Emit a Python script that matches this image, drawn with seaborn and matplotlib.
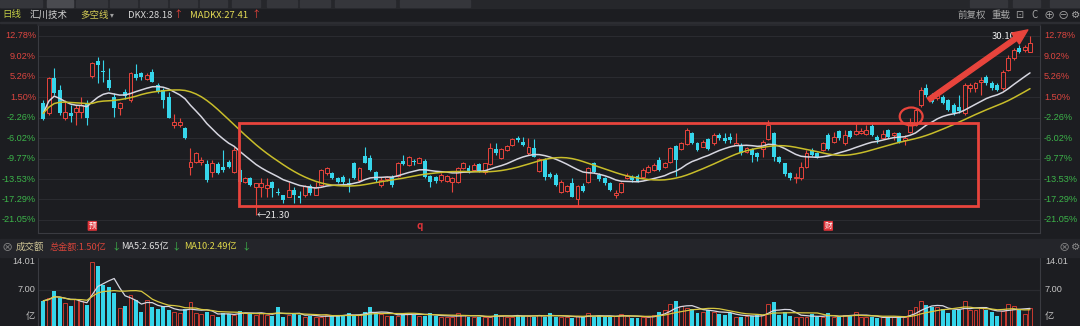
import numpy as np
import pandas as pd
import matplotlib
matplotlib.use("Agg")
import matplotlib.pyplot as plt
import matplotlib.transforms as mtransforms
import seaborn as sns
from matplotlib.patches import Rectangle, Ellipse

# ---------------- data ----------------
opens = [
    26.81, 26.32, 28.04, 27.45, 26.07, 26.32, 26.37, 26.37, 26.81, 28.14,
    28.87, 28.38, 27.94, 27.10, 26.57, 27.35, 26.96, 28.24, 28.28, 27.99,
    28.33, 27.70, 27.45, 27.10, 25.73, 25.73, 25.58, 23.67, 23.92, 23.92,
    23.82, 23.43, 23.82, 23.67, 23.92, 23.43, 23.53, 22.94, 23.13, 22.69,
    22.69, 22.64, 22.94, 22.45, 22.30, 22.20, 22.54, 22.25, 22.30, 22.74,
    22.30, 22.79, 23.38, 23.38, 23.13, 23.18, 22.89, 23.87, 23.03, 24.21,
    24.10, 23.40, 22.79, 23.07, 23.20, 23.23, 23.97, 23.77, 23.97, 23.88,
    23.98, 23.23, 23.20, 23.03, 23.00, 22.95, 22.95, 23.61, 23.61, 23.53,
    23.82, 23.40, 23.82, 24.54, 24.10, 24.51, 24.75, 25.08, 24.91, 24.34,
    24.59, 23.47, 24.02, 23.33, 23.28, 22.46, 22.51, 22.87, 22.09, 22.74,
    22.95, 23.88, 23.28, 23.12, 22.87, 22.30, 22.46, 23.12, 23.20, 23.23,
    23.20, 23.44, 23.53, 24.02, 23.69, 23.93, 24.70, 24.54, 24.80, 25.36,
    24.83, 24.67, 25.03, 24.83, 25.24, 25.08, 25.13, 24.75, 24.75, 24.42,
    24.54, 24.34, 24.54, 25.03, 25.32, 24.18, 23.85, 23.38, 23.12, 23.12,
    23.69, 24.51, 24.34, 24.51, 25.24, 24.91, 25.44, 24.83, 25.44, 25.28,
    25.33, 25.28, 25.70, 25.16, 25.11, 25.49, 25.24, 25.33, 24.99, 25.40,
    25.73, 26.71, 27.53, 27.21, 27.04, 27.12, 26.96, 26.71, 26.63, 26.31,
    27.53, 27.53, 27.83, 28.10, 27.78, 27.70, 27.53, 28.43, 29.01, 29.50,
    29.41, 29.33,
]
highs = [
    26.96, 28.09, 28.53, 27.70, 26.96, 26.71, 26.71, 27.10, 26.96, 28.82,
    29.07, 28.92, 28.53, 27.30, 26.86, 27.50, 28.33, 28.73, 28.33, 28.28,
    28.48, 27.80, 27.55, 27.35, 26.27, 26.07, 25.63, 24.61, 24.41, 24.16,
    24.02, 24.02, 23.92, 24.51, 24.02, 24.66, 23.62, 23.18, 23.18, 22.89,
    23.13, 23.13, 22.99, 22.64, 22.30, 22.94, 22.69, 22.50, 22.79, 22.84,
    22.94, 23.58, 23.67, 23.43, 23.18, 23.28, 23.13, 23.92, 23.67, 24.66,
    24.26, 23.45, 23.20, 23.23, 23.28, 23.93, 24.26, 24.21, 24.08, 24.15,
    24.05, 23.28, 23.23, 23.36, 23.28, 23.20, 23.69, 23.93, 23.77, 23.88,
    23.87, 23.88, 24.83, 24.86, 24.59, 24.75, 25.08, 25.19, 25.16, 25.08,
    25.03, 24.13, 24.10, 23.40, 23.36, 23.03, 22.79, 23.12, 22.79, 22.87,
    23.69, 23.93, 23.36, 23.20, 22.95, 22.54, 22.95, 23.36, 23.28, 23.33,
    23.61, 23.77, 23.85, 24.18, 23.93, 24.67, 24.75, 24.91, 25.57, 25.41,
    24.91, 24.99, 25.08, 25.32, 25.32, 25.32, 25.32, 25.32, 24.83, 24.67,
    24.59, 24.42, 25.00, 25.98, 25.41, 24.23, 23.88, 23.44, 23.36, 23.93,
    24.51, 24.59, 24.42, 24.91, 25.32, 25.41, 25.49, 25.49, 25.49, 25.82,
    25.57, 25.73, 25.90, 25.24, 25.49, 25.54, 25.41, 25.38, 25.24, 26.06,
    26.55, 27.61, 27.73, 27.29, 27.45, 27.21, 27.01, 26.80, 27.21, 27.78,
    27.78, 27.86, 28.10, 28.19, 27.89, 27.78, 28.43, 29.17, 29.50, 29.66,
    29.66, 30.10,
]
lows = [
    25.98, 26.22, 27.21, 26.22, 25.98, 25.88, 25.73, 26.07, 25.73, 28.04,
    27.80, 27.85, 27.45, 26.12, 26.22, 27.01, 26.86, 27.94, 27.94, 27.94,
    27.85, 27.30, 26.57, 26.07, 25.58, 25.63, 25.05, 23.28, 23.87, 23.77,
    22.94, 23.18, 23.33, 23.43, 23.62, 23.38, 22.84, 22.89, 22.74, 21.30,
    22.20, 22.20, 22.20, 22.30, 21.91, 22.20, 21.91, 21.91, 22.20, 22.30,
    22.30, 22.74, 23.28, 23.08, 22.89, 22.84, 22.45, 23.08, 22.94, 23.87,
    23.45, 22.95, 22.70, 23.00, 22.70, 23.20, 23.77, 23.72, 23.77, 23.85,
    23.12, 22.67, 22.90, 22.95, 22.95, 22.46, 22.90, 23.56, 23.36, 23.49,
    23.44, 23.33, 23.77, 24.26, 24.05, 24.46, 24.70, 24.91, 24.70, 24.26,
    24.15, 23.44, 23.03, 23.12, 22.74, 22.41, 22.46, 22.18, 21.76, 22.46,
    22.90, 23.39, 23.00, 22.79, 22.51, 22.14, 22.41, 23.07, 22.95, 22.95,
    23.15, 23.39, 23.49, 23.49, 23.64, 23.88, 23.23, 24.51, 24.75, 24.80,
    24.47, 24.64, 24.51, 24.75, 25.00, 24.83, 24.83, 24.75, 24.26, 24.38,
    23.93, 23.98, 24.18, 25.00, 23.98, 23.88, 23.23, 23.03, 22.87, 23.03,
    23.64, 24.23, 24.10, 24.46, 24.51, 24.83, 25.00, 24.75, 25.08, 25.24,
    25.28, 25.24, 25.21, 24.83, 25.08, 25.11, 25.00, 24.83, 24.75, 25.33,
    25.70, 26.63, 27.12, 26.83, 26.96, 26.75, 26.42, 26.22, 26.31, 26.22,
    27.37, 27.37, 27.21, 27.70, 27.45, 27.40, 27.45, 28.38, 28.92, 29.25,
    29.33, 29.31,
]
closes = [
    26.03, 28.04, 27.30, 26.32, 26.37, 26.17, 26.57, 26.71, 26.07, 28.77,
    28.68, 28.33, 27.55, 26.57, 26.81, 27.16, 28.28, 28.04, 28.09, 28.19,
    27.85, 27.35, 26.96, 26.07, 25.88, 25.88, 25.10, 23.92, 24.36, 24.02,
    23.03, 23.87, 23.38, 23.53, 23.67, 24.51, 22.94, 23.13, 22.79, 22.89,
    22.89, 22.79, 22.64, 22.40, 22.05, 22.54, 22.30, 22.15, 22.74, 22.40,
    22.69, 23.53, 23.62, 23.13, 22.94, 22.94, 22.84, 23.13, 23.62, 23.85,
    23.53, 23.03, 23.03, 23.17, 22.79, 23.85, 23.82, 24.15, 23.90, 24.10,
    23.17, 22.95, 23.00, 23.28, 23.23, 23.12, 23.61, 23.85, 23.44, 23.77,
    23.49, 23.85, 24.59, 24.34, 24.54, 24.70, 25.03, 25.00, 24.75, 24.67,
    24.18, 24.08, 23.20, 23.17, 22.79, 22.95, 22.74, 22.21, 22.74, 22.51,
    23.61, 23.44, 23.07, 22.87, 22.54, 22.38, 22.87, 23.23, 23.03, 23.00,
    23.53, 23.69, 23.77, 23.53, 23.88, 24.59, 24.02, 24.83, 25.49, 24.83,
    24.51, 24.91, 24.54, 25.24, 25.08, 24.96, 25.00, 24.83, 24.34, 24.59,
    24.26, 24.18, 24.91, 25.73, 24.15, 23.93, 23.33, 23.13, 23.20, 23.69,
    24.34, 24.26, 24.13, 24.83, 24.56, 25.16, 25.08, 25.24, 25.16, 25.44,
    25.44, 25.49, 25.24, 25.00, 25.28, 25.16, 25.33, 24.91, 25.08, 25.89,
    26.47, 27.45, 27.21, 26.88, 27.37, 26.80, 26.47, 26.31, 26.42, 27.70,
    27.70, 27.78, 27.94, 27.78, 27.53, 27.45, 28.35, 29.01, 29.41, 29.33,
    29.57, 29.74,
]
volumes = [  # 成交额, 亿
    4.9, 5.4, 6.8, 5.4, 4.5, 3.9, 5.2, 4.9, 4.1, 12.5,
    11.7, 8.0, 7.6, 6.4, 3.5, 3.9, 6.0, 5.1, 2.8, 5.1,
    3.7, 3.4, 3.8, 3.1, 2.8, 2.5, 3.3, 4.7, 2.5, 2.4,
    2.8, 2.2, 1.8, 2.6, 2.4, 2.2, 3.0, 2.6, 2.5, 2.2,
    2.5, 2.2, 2.0, 3.7, 1.8, 2.2, 2.5, 2.2, 1.8, 2.0,
    1.7, 1.8, 2.2, 2.0, 2.0, 2.2, 2.5, 2.0, 2.2, 2.8,
    3.7, 2.5, 2.4, 2.0, 2.0, 2.0, 2.6, 2.6, 2.2, 2.0,
    2.0, 2.5, 2.0, 1.7, 1.7, 1.8, 2.5, 2.2, 1.8, 1.8,
    1.8, 1.7, 1.8, 2.4, 2.0, 1.8, 1.8, 2.2, 2.0, 2.0,
    1.8, 2.2, 1.8, 2.5, 1.8, 1.8, 1.7, 1.6, 2.0, 1.7,
    2.5, 1.8, 2.0, 1.8, 1.8, 2.0, 2.3, 2.0, 1.6, 1.6,
    1.8, 1.8, 2.2, 2.8, 3.2, 4.3, 4.8, 3.8, 3.5, 3.4,
    2.5, 2.8, 3.2, 2.8, 2.4, 2.2, 2.5, 1.7, 1.8, 1.9,
    1.9, 2.2, 2.2, 4.2, 4.7, 2.2, 2.8, 2.0, 1.7, 1.8,
    1.7, 2.4, 1.8, 1.7, 2.5, 1.7, 1.7, 2.2, 2.2, 2.8,
    1.7, 1.7, 1.7, 1.6, 1.7, 1.7, 1.8, 1.7, 1.7, 3.2,
    3.7, 4.8, 4.1, 3.7, 3.7, 3.4, 2.5, 3.2, 3.2, 4.8,
    3.2, 3.2, 3.5, 3.2, 2.8, 2.0, 3.0, 4.2, 3.8, 3.2,
    2.4, 3.5,
]

pct_ticks = [12.78, 9.02, 5.26, 1.50, -2.26, -6.02, -9.77, -13.53, -17.29, -21.05]
pct_labels = ["12.78%", "9.02%", "5.26%", "1.50%", "-2.26%", "-6.02%",
              "-9.77%", "-13.53%", "-17.29%", "-21.05%"]
base_price = 26.69
vol_axis_labels = ["14.01", "7.00", "亿"]
vol_grid_value = 7.00
low_text = "←21.30"
high_text = "30.10"

# ---------------- style ----------------
sns.set_theme(style="dark")
plt.rcParams["font.family"] = ["Noto Sans CJK SC", "DejaVu Sans"]
plt.rcParams["axes.unicode_minus"] = False
NUMFONT = ["Liberation Sans", "DejaVu Sans"]

BG = "#1c1d21"
RED = "#e8443c"
CYAN = "#36d5ea"
GRID = "#2a2b30"
AXLINE = "#3a3b41"
WHITE_L = "#d6d6e0"
YELLOW_L = "#c8bd2a"
POS = "#dc4640"
NEG = "#3cb44a"

W, H = 1080, 326
fig = plt.figure(figsize=(W / 100, H / 100), dpi=100, facecolor=BG)


def fx(x):
    return x / W


def fy(y):
    return 1 - y / H


def ftext(x, y, s, color, size=6.8, ha="left", **kw):
    fig.text(fx(x), fy(y), s, color=color, fontsize=size, ha=ha, va="center", **kw)


def frect(x0, y0, x1, y1, color, z=0):
    fig.patches.append(Rectangle((fx(x0), fy(y1)), (x1 - x0) / W, (y1 - y0) / H,
                                 transform=fig.transFigure, color=color, zorder=z))


# top tab strip
frect(0, 0, W, 8, "#26272b")
for (a, b) in [(0, 42), (47, 73), (76, 107), (110, 137), (140, 167), (170, 197),
               (200, 227), (232, 260), (267, 297), (300, 330), (335, 395), (400, 470)]:
    frect(a, 0, b, 7, "#35363b", 1)
frect(47, 0, 73, 7, "#4a4b50", 1)
for (a, b) in [(970, 1007), (1013, 1040), (1050, 1080)]:
    frect(a, 0, b, 7, "#35363b", 1)
frect(0, 22, W, 23, "#2c2d32")
# volume header band
frect(0, 239, W, 257, "#24252a")

# header texts
ftext(2, 15, "日线", "#c3cc45")
ftext(30, 15, "汇川技术", "#d0d0d0")
ftext(80, 15, "多空线", "#d5cc55")
ftext(110, 15, "▾", "#a0a0a0", size=5.5)
ftext(128, 15, "DKX:28.18", "#d8d8d8")
ftext(174, 15, "↑", RED)
ftext(190, 15, "MADKX:27.41", "#e6de55")
ftext(251, 15, "↑", RED)
ftext(958, 15, "前复权", "#a8a8a8")
ftext(991, 15, "重载", "#a8a8a8")
ftext(1015, 15, "⊡", "#a8a8a8", size=7)
ftext(1031, 15, "C", "#a8a8a8", size=7)
ftext(1044, 15, "⊕", "#a8a8a8", size=8)
ftext(1058, 15, "⊖", "#a8a8a8", size=8)
ftext(1071, 15, "⚙", "#a8a8a8", size=7.5)

ftext(2, 247, "⊗", "#8c8c8c", size=8)
ftext(16, 247, "成交额", "#cfc596")
ftext(50, 247, "总金额:1.50亿", "#d8443a", size=6.6)
ftext(111, 247, "↓", NEG)
ftext(121, 247, "MA5:2.65亿", "#e0e0e0", size=6.6)
ftext(172, 247, "↓", NEG)
ftext(184, 247, "MA10:2.49亿", "#e0d84a", size=6.6)
ftext(242, 247, "↓", NEG)
ftext(1059, 247, "⊗", "#8c8c8c", size=8)
ftext(1071, 247, "⚙", "#8c8c8c", size=7.5)

# ---------------- main price panel ----------------
o = np.array(opens)
h = np.array(highs)
l = np.array(lows)
c = np.array(closes)
v = np.array(volumes)
idx = np.arange(len(c))
up = c >= o

ax = fig.add_axes([fx(38), fy(233), (1040 - 38) / W, (233 - 25) / H])
ax.set_facecolor(BG)
x_first, x_last = 43.3, 1030.0
step = (x_last - x_first) / (len(c) - 1)
xlim = (-(x_first - 38) / step, len(c) - 1 + (1040 - x_last) / step)
ax.set_xlim(*xlim)
ax.set_ylim(20.43, 30.64)

tick_prices = [base_price * (1 + p / 100) for p in pct_ticks]
ax.set_yticks(tick_prices)
ax.set_xticks([])
ax.tick_params(axis="y", left=False, right=False, labelleft=False, labelright=False)
blend = mtransforms.blended_transform_factory(ax.transAxes, ax.transData)
ax_w_px = 1040 - 38
for tp, p, lab in zip(tick_prices, pct_ticks, pct_labels):
    colr = POS if p > 0 else NEG
    ax.text(-2.0 / ax_w_px, tp, lab, transform=blend, ha="right", va="center",
            color=colr, fontsize=6.6, family=NUMFONT, clip_on=False)
    ax.text(1 + 4.0 / ax_w_px, tp, lab, transform=blend, ha="left", va="center",
            color=colr, fontsize=6.6, family=NUMFONT, clip_on=False)
ax.grid(True, axis="y", color=GRID, linewidth=0.8)
ax.grid(False, axis="x")
for s in ["left", "right", "bottom"]:
    ax.spines[s].set_color(AXLINE)
    ax.spines[s].set_linewidth(0.8)
ax.spines["top"].set_color(GRID)

col = np.where(up, RED, CYAN)
ax.vlines(idx, l, h, colors=col, linewidth=0.8, zorder=2)
body_lo = np.minimum(o, c)
body_h = np.maximum(np.abs(c - o), 0.03)
bw = 0.72
ax.bar(idx[up], body_h[up], bottom=body_lo[up], width=bw, facecolor=BG,
       edgecolor=RED, linewidth=0.7, zorder=3)
ax.bar(idx[~up], body_h[~up], bottom=body_lo[~up], width=bw, color=CYAN,
       linewidth=0, zorder=3)

# 多空线 DKX / MADKX
mid = (3 * c + l + o + h) / 6
wts = np.arange(20, 0, -1, dtype=float)
dkx = np.empty(len(c))
for t in range(len(c)):
    n = min(20, t + 1)
    seg = mid[t - n + 1:t + 1][::-1]
    dkx[t] = np.sum(seg * wts[:n]) / np.sum(wts[:n])
madkx = pd.Series(dkx).rolling(10, min_periods=1).mean().values
sns.lineplot(x=idx, y=dkx, ax=ax, color=WHITE_L, linewidth=1.1, zorder=4, legend=False)
sns.lineplot(x=idx, y=madkx, ax=ax, color=YELLOW_L, linewidth=1.1, zorder=4, legend=False)
ax.set_xlabel("")
ax.set_ylabel("")

# annotations
i_low = int(np.argmin(l))
i_high = int(np.argmax(h))
ax.text(i_low + 0.2, l[i_low], low_text, color="#e8e8e8", fontsize=6.8, ha="left",
        va="center", zorder=6)
ax.text(i_high - 2.6, h[i_high], high_text, color="#f0f0f0", fontsize=6.8, ha="right",
        va="center", zorder=6)

box_x0, box_x1 = 35.9, 171.5
box_lo, box_hi = 21.76, 25.83
ax.add_patch(Rectangle((box_x0, box_lo), box_x1 - box_x0, box_hi - box_lo, fill=False,
                       edgecolor=RED, linewidth=2.0, zorder=5))
ax.add_patch(Ellipse((159.2, 26.15), 4.2, 0.88, fill=False, edgecolor=RED,
                     linewidth=1.6, zorder=5))
ax.annotate("", xy=(180.6, 30.40), xytext=(162.4, 26.96),
            arrowprops=dict(arrowstyle="simple,head_length=0.9,head_width=0.8,tail_width=0.28",
                            color=RED, mutation_scale=12, shrinkA=0, shrinkB=0),
            zorder=7)

mark_y = 20.78
ax.text(9, mark_y, "预", color="white", fontsize=5.5, ha="center", va="center", zorder=6,
        bbox=dict(boxstyle="round,pad=0.12", fc="#e0343a", ec="none"))
ax.text(144, mark_y, "财", color="white", fontsize=5.5, ha="center", va="center", zorder=6,
        bbox=dict(boxstyle="round,pad=0.12", fc="#e0343a", ec="none"))
ax.text(69, mark_y, "q", color="#e0343a", fontsize=7, ha="center", va="center",
        fontweight="bold", zorder=6)

# ---------------- volume panel ----------------
axv = fig.add_axes([fx(38), 0, (1040 - 38) / W, (326 - 257) / H])
axv.set_facecolor(BG)
axv.set_xlim(*xlim)
axv.set_ylim(0, 13.42)
axv.set_xticks([])
axv.set_yticks([])
axv.grid(False)
axv.axhline(vol_grid_value, color=GRID, linewidth=0.9, zorder=0)
for s in ["left", "right", "top"]:
    axv.spines[s].set_color(AXLINE)
    axv.spines[s].set_linewidth(0.8)
axv.spines["bottom"].set_visible(False)

axv.bar(idx[up], v[up], width=bw, facecolor=BG, edgecolor="#c8392f", linewidth=0.7, zorder=2)
axv.bar(idx[~up], v[~up], width=bw, color=CYAN, linewidth=0, zorder=2)
ma5 = pd.Series(v).rolling(5, min_periods=1).mean().values
ma10 = pd.Series(v).rolling(10, min_periods=1).mean().values
sns.lineplot(x=idx, y=ma5, ax=axv, color=WHITE_L, linewidth=0.9, zorder=3, legend=False)
sns.lineplot(x=idx, y=ma10, ax=axv, color="#d8c840", linewidth=0.9, zorder=3, legend=False)
axv.set_xlabel("")
axv.set_ylabel("")

for lab, yy in zip(vol_axis_labels, [262, 290, 316]):
    fam = NUMFONT if lab[0].isdigit() else None
    ftext(35, yy, lab, "#c4c4c4", size=6.6, ha="right", family=fam)
    ftext(1045, yy, lab, "#c4c4c4", size=6.6, ha="left", family=fam)

fig.savefig("out.png", dpi=100, facecolor=BG)
